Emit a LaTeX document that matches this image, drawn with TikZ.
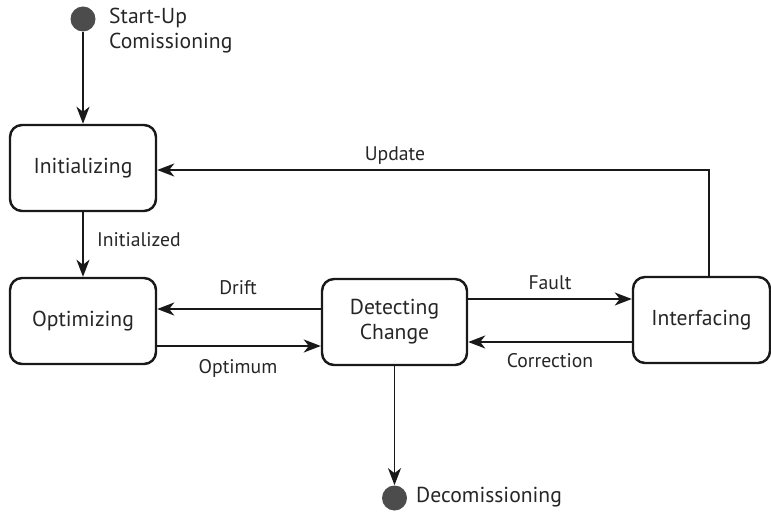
\documentclass[tikz,border=0pt]{standalone}
\usepackage{fontspec}
\setmainfont{PT Sans}
\usetikzlibrary{arrows.meta, positioning}

\begin{document}
\begin{tikzpicture}
\tikzstyle{state}=[rectangle, rounded corners=2.4mm, draw=black!90, line width=1.4pt, minimum width=2.92cm, minimum height=1.72cm, align=center, text=black!85, font=\fontsize{12.3}{14.2}\selectfont]
\tikzstyle{term}=[circle, fill=black!70, minimum size=5mm, inner sep=0pt]
\tikzstyle{connect}=[-{Stealth[length=3.4mm, width=2.6mm, inset=1mm]}, line width=1pt, draw=black!90]
\tikzstyle{lbl}=[text=black!85, font=\fontsize{11.2}{13}\selectfont]
\useasboundingbox (0,0) rectangle (15.42,10.24);
\node[term] (start) at (1.66, 9.86) {};
\node[state] (init) at (1.66, 6.88) {Initializing};
\node[state] (opt) at (1.66, 3.82) {Optimizing};
\node[state, minimum width=2.9cm] (detect) at (7.89, 3.8) {Detecting\\Change};
\node[state, minimum width=2.74cm] (inter) at (14.03, 3.84) {Interfacing};
\node[term] (stop) at (7.89, 0.28) {};
\node[lbl, anchor=west, align=left, font=\fontsize{12.3}{14.2}\selectfont] (startlbl) at (2.06, 9.63) {Start-Up\\Comissioning};
\node[lbl, anchor=west, font=\fontsize{12.3}{14.2}\selectfont] (stoplbl) at (8.2, 0.3) {Decomissioning};
\path (start) edge [connect] (init);
\path (init) edge [connect] (opt);
\path (detect) edge [connect] (stop);
\draw[connect] ([yshift=0.26cm]detect.west) -- ([yshift=0.26cm]detect.west -| opt.east);
\draw[connect] ([yshift=-0.5cm]opt.east) -- ([yshift=-0.5cm]opt.east -| detect.west);
\draw[connect] ([yshift=0.46cm]detect.east) -- ([yshift=0.46cm]detect.east -| inter.west);
\draw[connect] ([yshift=-0.44cm]inter.west) -- ([yshift=-0.44cm]inter.west -| detect.east);
\draw[connect] ([xshift=0.15cm]inter.north) |- ([yshift=-0.04cm]init.east);
\node[lbl, anchor=west] (initlbl) at (1.82, 5.44) {Initialized};
\node[lbl] (driftlbl) at (4.76, 4.48) {Drift};
\node[lbl] (optlbl) at (4.76, 2.88) {Optimum};
\node[lbl] (faultlbl) at (11.0, 4.58) {Fault};
\node[lbl] (corrlbl) at (11.0, 3.02) {Correction};
\node[lbl] (updlbl) at (7.9, 7.12) {Update};
\end{tikzpicture}
\end{document}
